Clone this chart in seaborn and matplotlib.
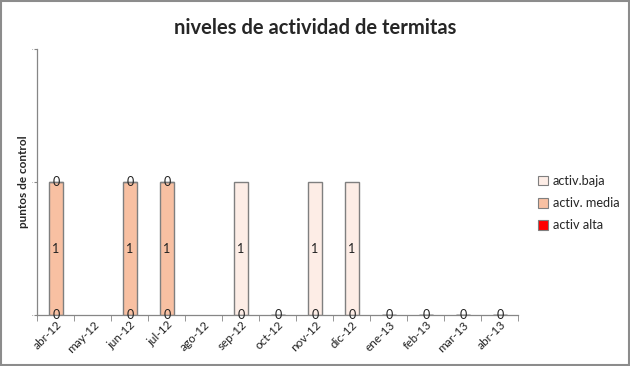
import numpy as np
import pandas as pd
import matplotlib
matplotlib.use("Agg")
import matplotlib.pyplot as plt
import seaborn as sns
from matplotlib.patches import Rectangle, Patch

MONTHS = ['abr-12', 'may-12', 'jun-12', 'jul-12', 'ago-12', 'sep-12', 'oct-12',
          'nov-12', 'dic-12', 'ene-13', 'feb-13', 'mar-13', 'abr-13']
ALTA = [0, np.nan, 0, 0, np.nan, 0, 0, 0, 0, 0, 0, 0, 0]
MEDIA = [1, np.nan, 1, 1, np.nan, 0, 0, 0, 0, 0, 0, 0, 0]
BAJA = [0, np.nan, 0, 0, np.nan, 1, 0, 1, 1, 0, 0, 0, 0]

COLORS = {"activ.baja": "#FDEDE6", "activ. media": "#F8C0A2", "activ alta": "#FF0000"}
EDGE = "#7F7F7F"

sns.set_style("white")
plt.rcParams['font.family'] = ['Lato', 'DejaVu Sans']

df = pd.DataFrame({"mes": MONTHS, "alta": ALTA, "media": MEDIA, "baja": BAJA})
df["b_media"] = df["alta"].fillna(0)
df["b_baja"] = (df["alta"] + df["media"]).fillna(0)

fig = plt.figure(figsize=(6.3, 3.66), dpi=100)
ax = fig.add_axes([0.0595, 0.139, 0.7635, 0.727])

# stack: alta at bottom, media, baja on top (months without data are dropped by seaborn)
layers = [("alta", None, "activ alta"), ("media", "b_media", "activ. media"), ("baja", "b_baja", "activ.baja")]
for col, bcol, name in layers:
    valid = df[col].notna()
    bottom = 0 if bcol is None else df.loc[valid, bcol].values
    sns.barplot(data=df, x="mes", y=col, order=MONTHS, color=COLORS[name], saturation=1,
                width=0.4, bottom=bottom, edgecolor=EDGE, linewidth=1.0, errorbar=None, ax=ax)

# data labels, skipping ones that would sit exactly on top of an earlier label
seen = set()
for cont in ax.containers:
    labels = []
    for rect in cont:
        pos = (round(rect.get_x(), 3), round(rect.get_y() + rect.get_height() / 2, 3))
        if pos in seen:
            labels.append("")
        else:
            seen.add(pos)
            labels.append(f"{rect.get_height():g}")
    ax.bar_label(cont, labels=labels, label_type="center", fontsize=9, color="#222222")

ax.set_ylim(0, 2)
ax.set_xlim(-0.5, len(MONTHS) - 0.5)
ax.set_yticks([0, 1, 2])
ax.set_yticklabels(["0", "1", "2"], fontsize=1.5, color="#555555")
ax.tick_params(axis="y", length=2, color="#868686", pad=1, left=True)
ax.tick_params(axis="x", length=0, pad=3)
ax.set_xticks(range(len(MONTHS)))
ax.set_xticklabels(MONTHS, rotation=45, ha="right", rotation_mode="anchor", fontsize=8.5, color="#222222")
ax.set_xticks(np.arange(-0.5, len(MONTHS)), minor=True)
ax.tick_params(axis="x", which="minor", length=4, color="#868686", bottom=True)

for s in ["top", "right"]:
    ax.spines[s].set_visible(False)
for s in ["left", "bottom"]:
    ax.spines[s].set_color("#868686")
    ax.spines[s].set_linewidth(0.9)

ax.set_xlabel("")
ax.set_ylabel("puntos de control", fontsize=8.5, fontweight="bold", labelpad=2)

fig.suptitle("niveles de actividad de termitas", fontsize=14.5, fontweight="bold", y=0.95, x=0.5)

handles = [Patch(facecolor=COLORS[n], edgecolor=EDGE, linewidth=0.8) for n in ["activ.baja", "activ. media", "activ alta"]]
fig.legend(handles, ["activ.baja", "activ. media", "activ alta"], loc="center left",
           bbox_to_anchor=(0.835, 0.445), frameon=False, fontsize=9.2,
           handlelength=0.8, handleheight=0.8, handletextpad=0.4, labelspacing=0.8)

fig.patches.append(Rectangle((0.001, 0.002), 0.997, 0.995, transform=fig.transFigure,
                             fill=False, edgecolor="#8C8C8C", linewidth=1.5))

fig.savefig("out.png", dpi=100)
